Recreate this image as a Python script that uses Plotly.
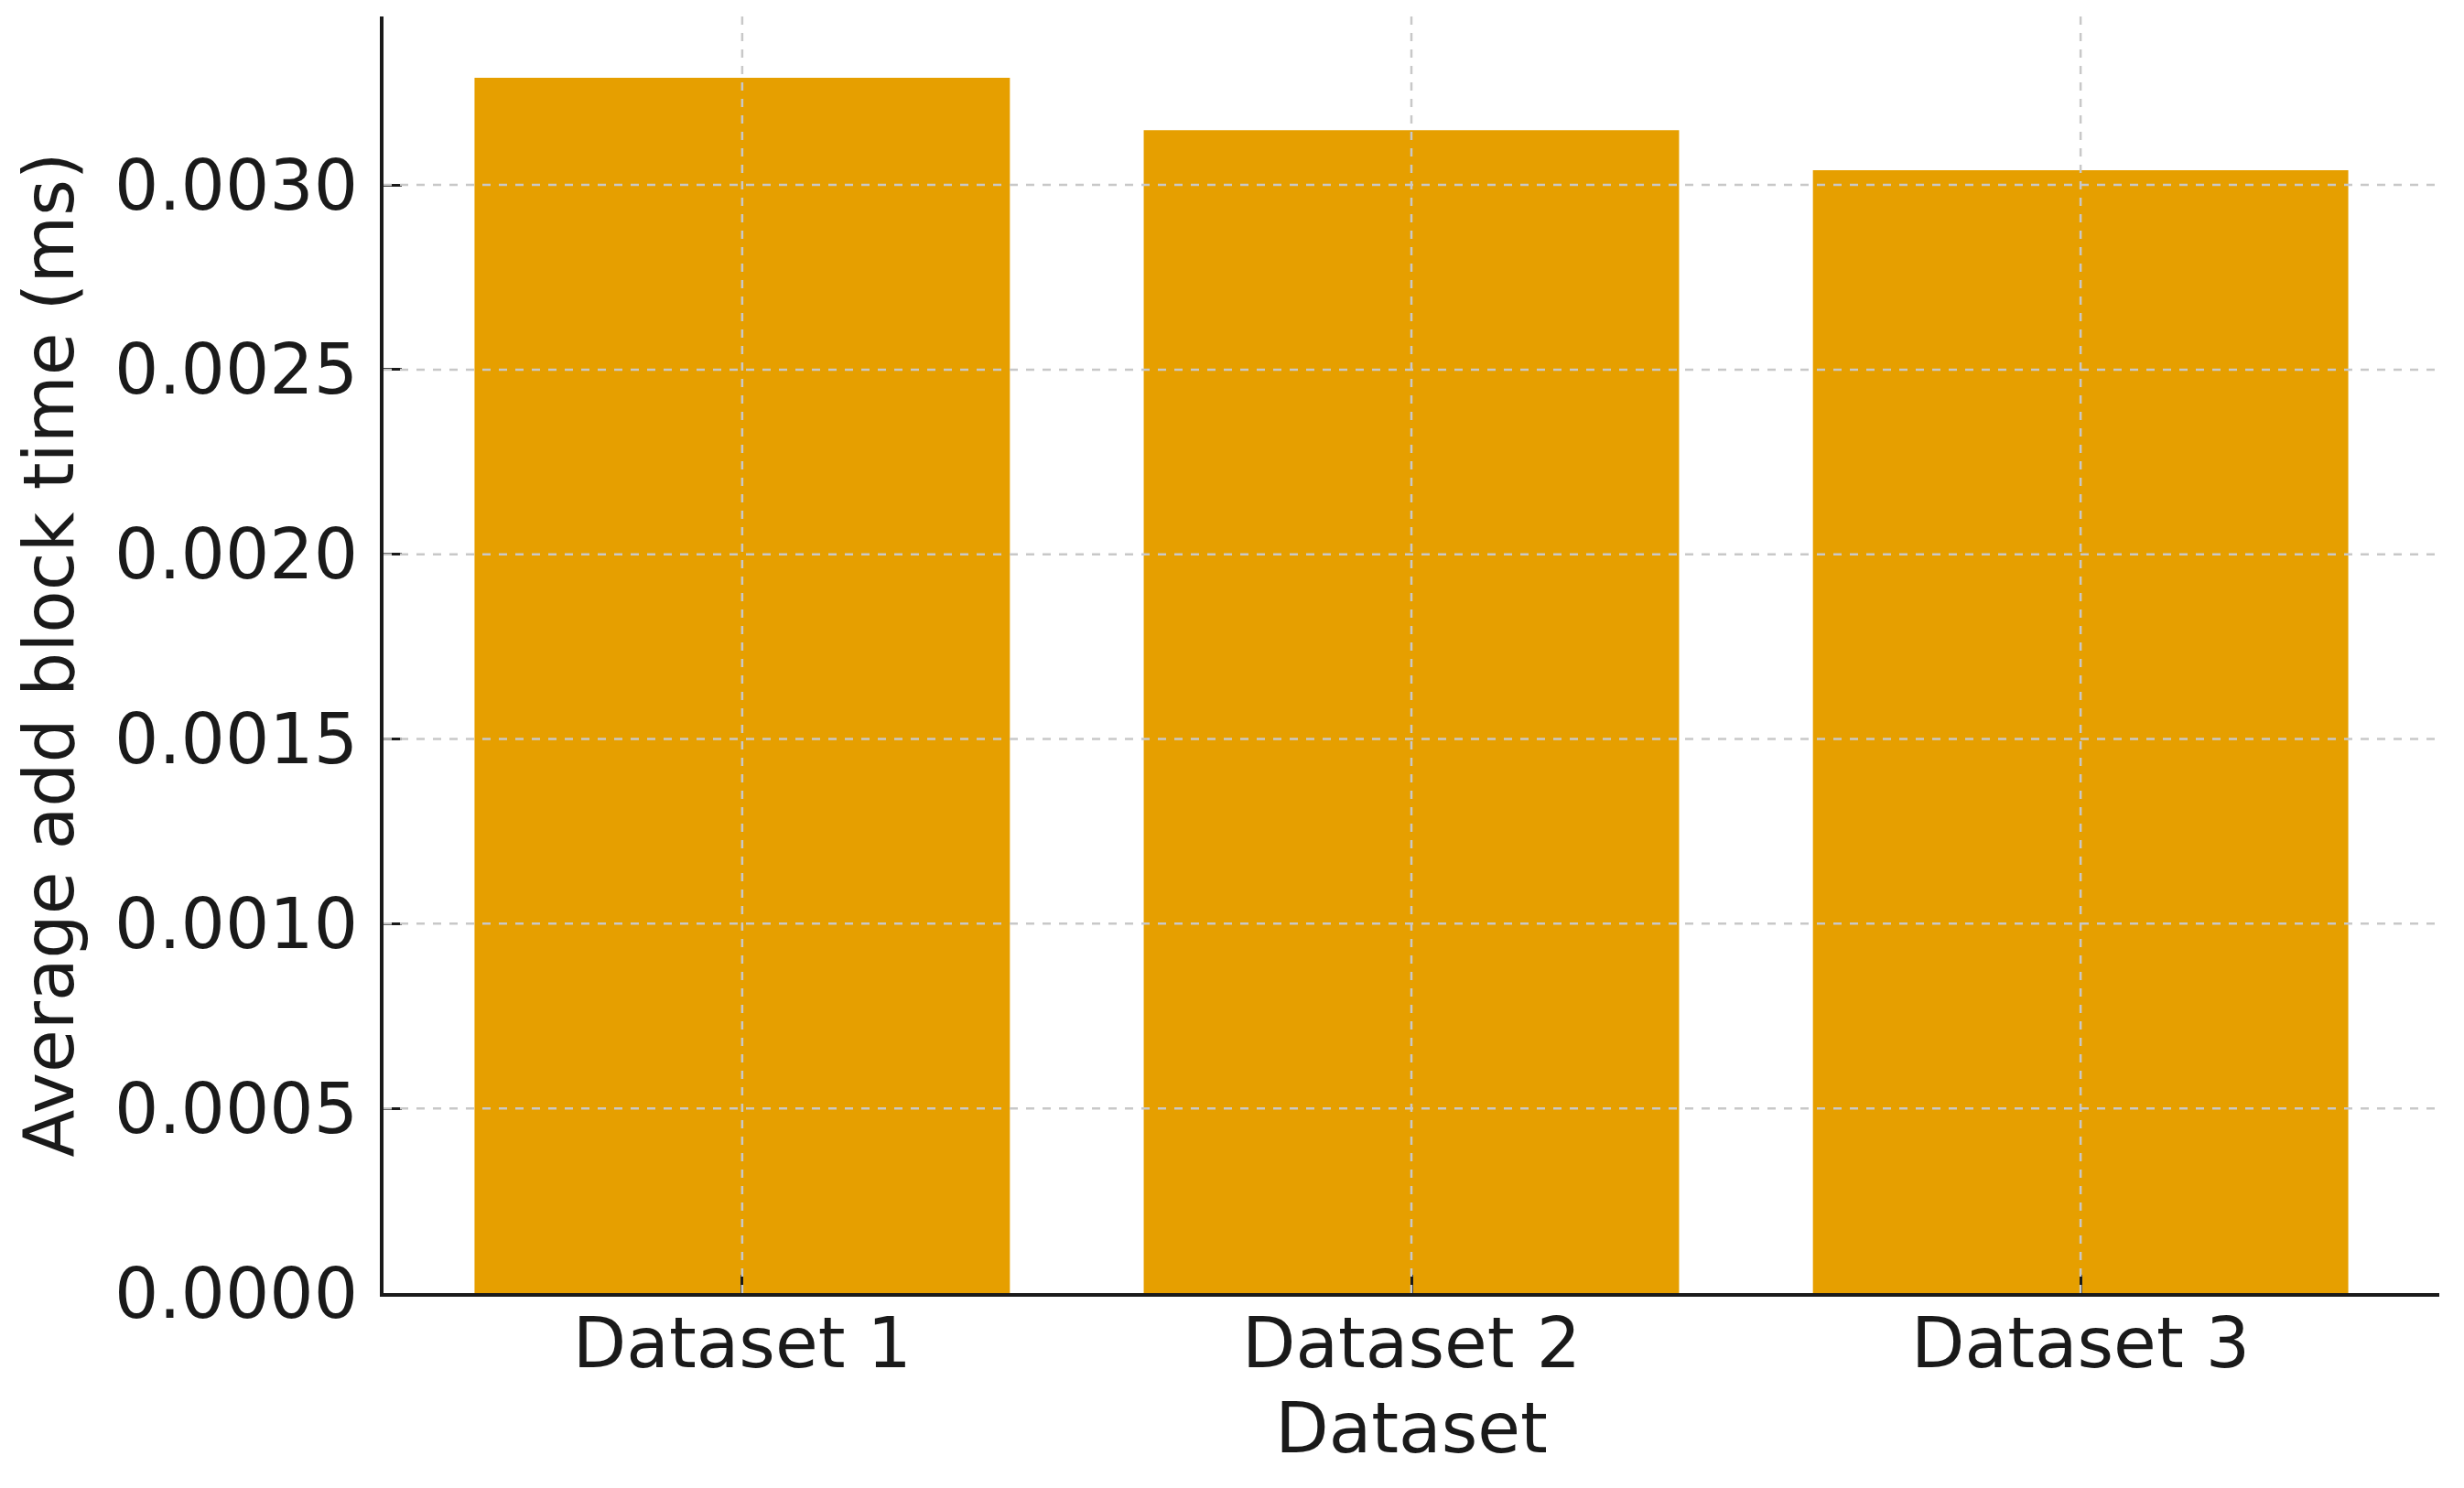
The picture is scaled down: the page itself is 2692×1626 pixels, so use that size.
import plotly.graph_objects as go

# data
categories = ['Dataset 1', 'Dataset 2', 'Dataset 3']
avg_add_block_ms = [0.00329, 0.003148, 0.00304]
y_ticks = [0.0, 0.0005, 0.0010, 0.0015, 0.0020, 0.0025, 0.0030]

bar_col = '#E69F00'
grid_col = '#c8c8c8'
axis_col = '#1a1a1a'
font = dict(family='DejaVu Sans', size=76, color='#1a1a1a')

fig = go.Figure()
fig.add_trace(go.Bar(x=categories, y=avg_add_block_ms, width=0.8,
                     marker=dict(color=bar_col, line=dict(width=0)), showlegend=False))

# dashed grid drawn above the bars, like the matplotlib original
grid_shapes = []
for t in y_ticks[1:]:
    grid_shapes.append(dict(type='line', xref='paper', yref='y', x0=0, x1=1, y0=t, y1=t,
                            line=dict(color=grid_col, width=2.5, dash='dash'), layer='above'))
for c in categories:
    grid_shapes.append(dict(type='line', xref='x', yref='paper', x0=c, x1=c, y0=0, y1=1,
                            line=dict(color=grid_col, width=2.5, dash='dash'), layer='above'))

# page body has an 8px margin, so the figure is a bit smaller than the window
fig.update_layout(
    width=2676, height=1610, autosize=False,
    margin=dict(l=411, r=19, t=10, b=205),
    paper_bgcolor='white', plot_bgcolor='white',
    font=font, shapes=grid_shapes, bargap=0.2,
)
fig.update_xaxes(
    type='category', range=[-0.536, 2.536],
    showgrid=False, zeroline=False,
    showline=True, linewidth=3.5, linecolor=axis_col,
    ticks='inside', ticklen=20, tickwidth=3, tickcolor=axis_col,
    ticklabelstandoff=-14,
    title=dict(text='Dataset', font=font, standoff=24),
    layer='above traces',
)
fig.update_yaxes(
    range=[0, 0.003456],
    tickvals=y_ticks, ticktext=['%.4f' % v for v in y_ticks],
    showgrid=False, zeroline=False,
    showline=True, linewidth=3.5, linecolor=axis_col,
    ticks='inside', ticklen=20, tickwidth=3, tickcolor=axis_col,
    ticklabelstandoff=9,
    title=dict(text='Average add block time (ms)', font=font, standoff=21),
    layer='above traces',
)

fig.write_html('out.html')
